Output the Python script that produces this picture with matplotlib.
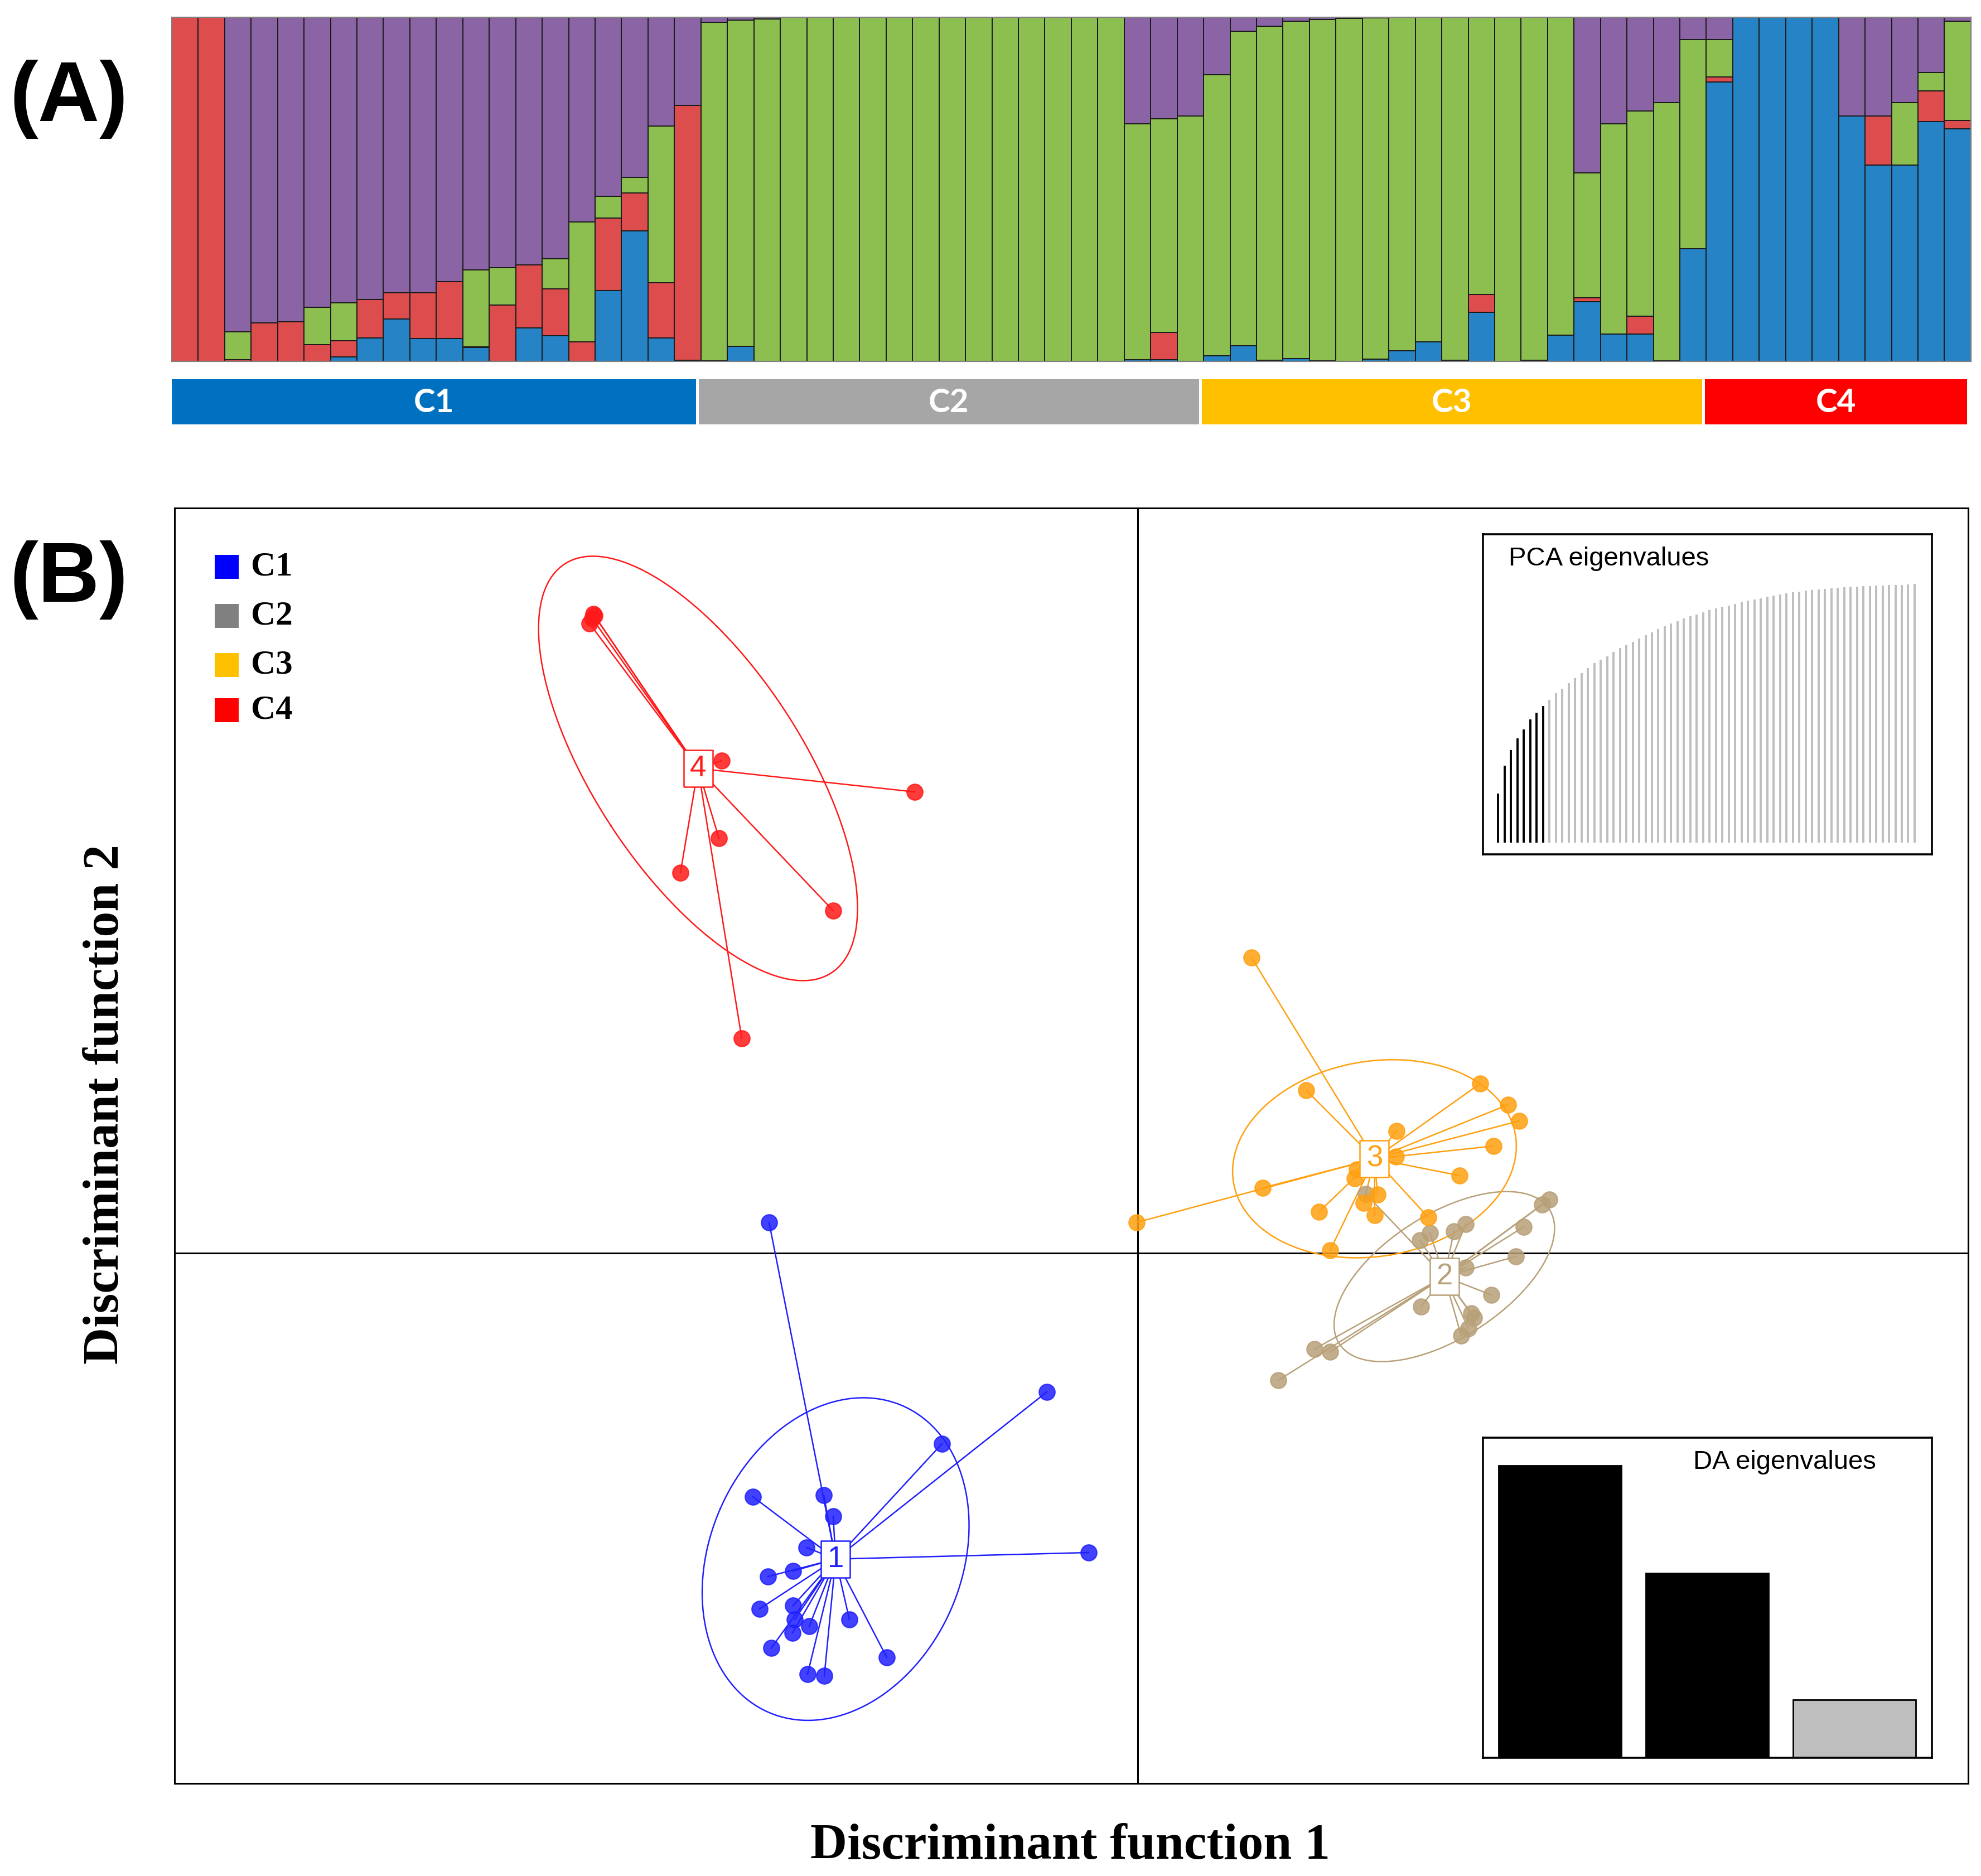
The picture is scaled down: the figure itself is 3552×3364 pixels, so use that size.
import numpy as np
import matplotlib.pyplot as plt
from matplotlib.patches import Rectangle

# ---------------- (A) ancestry proportions, 68 individuals, K = 4 ----------------
q_blue = [0, 0, 0, 0, 0, 0, 0.013, 0.068, 0.124, 0.066,
          0.066, 0.04, 0, 0.097, 0.074, 0, 0.206, 0.38, 0.068, 0.004,
          0, 0.043, 0, 0, 0, 0, 0, 0, 0, 0,
          0, 0, 0, 0, 0, 0, 0.005, 0.005, 0, 0.016,
          0.046, 0.004, 0.008, 0.002, 0, 0.006, 0.031, 0.057, 0.003, 0.142,
          0, 0.004, 0.076, 0.174, 0.08, 0.08, 0.002, 0.328, 0.812, 1.0,
          1.0, 1.0, 1.0, 0.713, 0.57, 0.57, 0.697, 0.676]
q_red = [1.0, 1.0, 0.005, 0.112, 0.115, 0.049, 0.047, 0.112, 0.076, 0.134,
         0.165, 0.002, 0.163, 0.184, 0.136, 0.057, 0.211, 0.11, 0.16, 0.74,
         0.002, 0, 0, 0, 0, 0, 0, 0, 0, 0,
         0, 0, 0, 0, 0, 0, 0, 0.079, 0, 0,
         0, 0, 0, 0, 0, 0, 0, 0, 0, 0.052,
         0, 0, 0, 0.01, 0, 0.052, 0, 0, 0.015, 0,
         0, 0, 0, 0, 0.143, 0, 0.089, 0.024]
q_green = [0, 0, 0.081, 0, 0, 0.108, 0.11, 0, 0, 0,
           0, 0.224, 0.109, 0, 0.088, 0.348, 0.063, 0.045, 0.456, 0,
           0.984, 0.949, 0.995, 1.0, 1.0, 1.0, 1.0, 1.0, 1.0, 1.0,
           1.0, 1.0, 1.0, 1.0, 1.0, 1.0, 0.685, 0.621, 0.713, 0.817,
           0.914, 0.97, 0.98, 0.992, 0.996, 0.992, 0.969, 0.943, 0.997, 0.806,
           1.0, 0.996, 0.924, 0.364, 0.61, 0.596, 0.75, 0.608, 0.109, 0,
           0, 0, 0, 0, 0, 0.182, 0.054, 0.288]
q_purple = [0, 0, 0.914, 0.888, 0.885, 0.843, 0.83, 0.82, 0.80, 0.80,
            0.769, 0.734, 0.728, 0.719, 0.702, 0.595, 0.52, 0.465, 0.316, 0.256,
            0.014, 0.008, 0.005, 0, 0, 0, 0, 0, 0, 0,
            0, 0, 0, 0, 0, 0, 0.31, 0.295, 0.287, 0.167,
            0.04, 0.026, 0.012, 0.006, 0.004, 0.002, 0, 0, 0, 0,
            0, 0, 0, 0.452, 0.31, 0.272, 0.248, 0.064, 0.064, 0,
            0, 0, 0, 0.287, 0.287, 0.248, 0.16, 0.012]

group_names = ['C1', 'C2', 'C3', 'C4']
group_sizes = [20, 19, 19, 10]
group_bar_colors = ['#0070C0', '#A6A6A6', '#FFC000', '#FF0000']
cluster_colors = ['#2683C6', '#DE4D4D', '#8DBE50', '#8B64A6']

# ---------------- (B) DAPC scatter: discriminant functions 1 and 2 ----------------
c1_x = [-3.305, -0.815, -1.755, -3.45, -2.815, -2.73, -2.97, -0.44, -3.315, -3.09,
        -3.39, -3.09, -3.075, -2.945, -3.095, -2.585, -3.285, -2.25, -2.96, -2.81]
c1_y = [0.275, -1.245, -1.71, -2.185, -2.17, -2.36, -2.64, -2.685, -2.90, -2.85,
        -3.19, -3.16, -3.285, -3.345, -3.405, -3.285, -3.54, -3.625, -3.775, -3.79]
c2_x = [2.045, 2.53, 2.62, 2.835, 2.94, 3.69, 3.625, 3.46, 3.39, 2.94,
        3.17, 2.54, 2.99, 3.015, 2.965, 2.90, 1.585, 1.725, 1.26]
c2_y = [0.53, 0.115, 0.18, 0.195, 0.26, 0.48, 0.435, 0.235, -0.03, -0.13,
        -0.375, -0.48, -0.54, -0.58, -0.675, -0.74, -0.86, -0.885, -1.14]
c3_x = [1.02, 1.51, 3.07, 3.32, 3.42, 2.32, 3.19, 2.315, 2.885, 1.965,
        1.945, 1.12, 2.15, 2.025, 1.625, 2.125, 2.605, 1.725, -0.01]
c3_y = [2.65, 1.46, 1.52, 1.33, 1.185, 1.095, 0.96, 0.865, 0.695, 0.75,
        0.67, 0.585, 0.525, 0.45, 0.37, 0.34, 0.32, 0.025, 0.275]
c4_x = [-4.88, -4.89, -4.915, -4.87, -3.73, -2.00, -3.755, -4.10, -2.73, -3.55]
c4_y = [5.73, 5.69, 5.645, 5.715, 4.415, 4.135, 3.72, 3.41, 3.07, 1.925]

scatter_colors = ['#2020FF', '#B8A078', '#FFA010', '#FF1A1A']
legend_colors = ['#0000FF', '#808080', '#FFC000', '#FF0000']

# retained PCs shown in black, the rest in grey
pca_eig = [223, 350, 420, 473, 515, 561, 590, 620,
           648, 679, 700, 725, 747, 770, 793, 815, 830, 847, 867, 883, 897, 913,
           927, 942, 955, 969, 983, 995, 1005, 1017, 1027, 1035, 1045, 1055, 1063,
           1070, 1077, 1085, 1093, 1100, 1105, 1110, 1117, 1123, 1127, 1132, 1137,
           1140, 1145, 1148, 1150, 1153, 1155, 1157, 1159, 1161, 1163, 1165, 1166,
           1167, 1168, 1169, 1170, 1171, 1173, 1174]
n_pca_kept = 8
da_eig = [132.3, 83.5, 26.0]
n_da_kept = 2

serif = 'Liberation Serif'
sans = 'Liberation Sans'

fig = plt.figure(figsize=(17.76, 16.82), dpi=200)

# ---------------- panel A ----------------
axA = fig.add_axes([0.0867, 0.80737, 0.9082, 0.18341])
n = len(q_blue)
xpos = np.arange(n)
bottom = np.zeros(n)
for vals, col in zip([q_blue, q_red, q_green, q_purple], cluster_colors):
    vals = np.array(vals, dtype=float)
    keep = vals > 0
    axA.bar(xpos[keep], vals[keep], bottom=bottom[keep], width=1.0, align='edge',
            color=col, edgecolor='#1a1a1a', linewidth=0.7)
    bottom += vals
axA.set_xlim(0, n)
axA.set_ylim(0, 1)
axA.set_xticks([])
axA.set_yticks([])
for s in axA.spines.values():
    s.set_color('#7f7f7f')
    s.set_linewidth(0.8)

axG = fig.add_axes([0.0867, 0.77378, 0.9088, 0.02408])
starts = np.concatenate([[0], np.cumsum(group_sizes)[:-1]])
spans = []
for st, sz in zip(starts, group_sizes):
    a = st if st == 0 else st - 0.1
    spans.append((a, st + sz - 0.2 - a))
axG.broken_barh(spans, (0, 1), facecolors=group_bar_colors)
for (a, w), name in zip(spans, group_names):
    axG.text(a + w / 2, 0.47, name, color='white', fontsize=21, fontweight='bold',
             family='Lato', ha='center', va='center')
axG.set_xlim(0, n)
axG.set_ylim(0, 1)
axG.axis('off')

# ---------------- panel B ----------------
axB = fig.add_axes([0.08812, 0.04935, 0.9054, 0.67984])
axB.set_xlim(-8.635, 7.445)
axB.set_ylim(-4.755, 6.68)
axB.axhline(0, color='black', lw=1.1, zorder=1)
axB.axvline(0, color='black', lw=1.1, zorder=1)

rect_marker = [(-0.78, -1), (0.78, -1), (0.78, 1), (-0.78, 1), (-0.78, -1)]
groups = [(c1_x, c1_y), (c2_x, c2_y), (c3_x, c3_y), (c4_x, c4_y)]
for k, ((gx, gy), col) in enumerate(zip(groups, scatter_colors)):
    gx = np.array(gx)
    gy = np.array(gy)
    mx, my = gx.mean(), gy.mean()
    # star lines from centroid
    for px, py in zip(gx, gy):
        axB.plot([mx, px], [my, py], color=col, lw=0.9, zorder=2)
    # inertia ellipse (1.5 sd)
    cov = np.cov(gx, gy, bias=True)
    vals, vecs = np.linalg.eigh(cov)
    t = np.linspace(0, 2 * np.pi, 200)
    circ = np.vstack([np.cos(t), np.sin(t)])
    ell = vecs @ (1.5 * np.sqrt(np.maximum(vals, 0))[:, None] * circ)
    axB.plot(mx + ell[0], my + ell[1], color=col, lw=0.9, zorder=2)
    axB.scatter(gx, gy, s=105, color=col, alpha=0.85, edgecolors=col,
                linewidths=0.8, zorder=3)
    axB.plot(mx, my, marker=rect_marker, markersize=24, markerfacecolor='white',
             markeredgecolor=col, markeredgewidth=0.9, linestyle='none', zorder=4)
    axB.text(mx, my, str(k + 1), color=col, fontsize=19, family=sans,
             ha='center', va='center', zorder=5)

axB.set_xticks([])
axB.set_yticks([])
for s in axB.spines.values():
    s.set_linewidth(1.1)

# legend
leg_y = [0.9537, 0.9152, 0.8771, 0.8413]
for yc, name, col in zip(leg_y, group_names, legend_colors):
    axB.add_patch(Rectangle((0.0224, yc - 0.0094), 0.01337, 0.0188,
                            transform=axB.transAxes, facecolor=col,
                            edgecolor='none', zorder=6))
    axB.text(0.0426, yc, name, transform=axB.transAxes, fontsize=22,
             fontweight='bold', family=serif, ha='left', va='center', zorder=6)

# PCA eigenvalues inset
axP = fig.add_axes([0.74859, 0.54459, 0.22663, 0.17063])
idx = np.arange(1, len(pca_eig) + 1)
pcols = ['black' if i <= n_pca_kept else '#BEBEBE' for i in idx]
axP.vlines(idx, 0, pca_eig, colors=pcols, lw=1.4)
axP.set_xlim(-1.38, len(pca_eig) + 2.7)
axP.set_ylim(-52, 1400)
axP.set_xticks([])
axP.set_yticks([])
for s in axP.spines.values():
    s.set_linewidth(1.3)
axP.text(0.0566, 0.962, 'PCA eigenvalues', transform=axP.transAxes,
         fontsize=17, family=sans, ha='left', va='top')

# DA eigenvalues inset
axD = fig.add_axes([0.74859, 0.06302, 0.22663, 0.17063])
dcols = ['black' if i < n_da_kept else '#BEBEBE' for i in range(len(da_eig))]
axD.bar([0.7, 1.9, 3.1], da_eig, width=1.0, color=dcols, edgecolor='black', lw=1.0)
axD.set_xlim(0.072, 3.733)
axD.set_ylim(-0.2, 145)
axD.set_xticks([])
axD.set_yticks([])
for s in axD.spines.values():
    s.set_linewidth(1.3)
axD.text(0.876, 0.962, 'DA eigenvalues', transform=axD.transAxes,
         fontsize=17, family=sans, ha='right', va='top')

# axis titles and panel letters
fig.text(0.5402, 0.01575, 'Discriminant function 1', fontsize=33, fontweight='bold',
         family=serif, ha='center', va='center')
fig.text(0.0535, 0.4114, 'Discriminant function 2', fontsize=33, fontweight='bold',
         family=serif, ha='center', va='center', rotation=90)
fig.text(0.005, 0.947, '(A)', fontsize=55, fontweight='bold', family=sans,
         ha='left', va='center')
fig.text(0.005, 0.6908, '(B)', fontsize=55, fontweight='bold', family=sans,
         ha='left', va='center')

fig.savefig('out.png', dpi=200, facecolor='white')
